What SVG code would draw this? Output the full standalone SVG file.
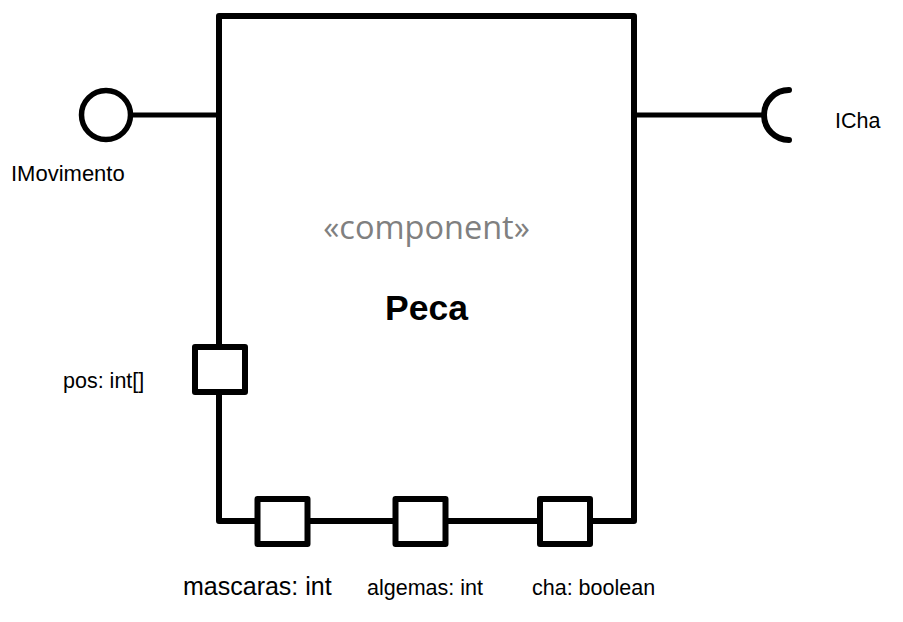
<svg xmlns="http://www.w3.org/2000/svg" width="903" height="622" viewBox="0 0 903 622">
<style>
.ln{fill:none;stroke:#000;stroke-width:6;stroke-linejoin:round;stroke-linecap:round}
.thin{fill:none;stroke:#000;stroke-width:5;stroke-linecap:butt}
.port{fill:#fff;stroke:#000;stroke-width:6;stroke-linejoin:round}
.lbl{font-family:"Liberation Sans",Arial,sans-serif;font-size:21.5px;fill:#000}
</style>
<rect width="903" height="622" fill="#fff"/>
<g id="connectors">
<line class="thin" x1="130" y1="115" x2="219" y2="115"/>
<line class="thin" x1="634" y1="115" x2="763" y2="115"/>
</g>
<g id="Peca">
<rect class="ln" x="219" y="16" width="415" height="505"/>
<text x="426.5" y="239" text-anchor="middle" style="font-family:'Open Sans','Noto Sans',sans-serif;font-size:32.5px;fill:#808080">«component»</text>
<text x="426.5" y="320" text-anchor="middle" style="font-family:'Liberation Sans',Arial,sans-serif;font-size:35.5px;font-weight:bold;fill:#000">Peca</text>
</g>
<g id="IMovimento">
<circle cx="106" cy="115" r="24.5" fill="#fff" stroke="#000" stroke-width="5.5"/>
<text class="lbl" x="11" y="181" style="font-size:22px">IMovimento</text>
</g>
<g id="ICha">
<path class="ln" d="M 789 90 A 25 25 0 0 0 789 140"/>
<text class="lbl" x="835" y="128">ICha</text>
</g>
<g id="port-pos">
<rect class="port" x="195" y="347" width="50" height="45"/>
<text class="lbl" x="63" y="388">pos: int[]</text>
</g>
<g id="port-mascaras">
<rect class="port" x="257.5" y="499" width="50" height="45"/>
<text class="lbl" x="183" y="595" style="font-size:25px">mascaras: int</text>
</g>
<g id="port-algemas">
<rect class="port" x="395.5" y="499" width="50" height="45"/>
<text class="lbl" x="367" y="595">algemas: int</text>
</g>
<g id="port-cha">
<rect class="port" x="540" y="499" width="50" height="45"/>
<text class="lbl" x="532" y="595">cha: boolean</text>
</g>
</svg>
